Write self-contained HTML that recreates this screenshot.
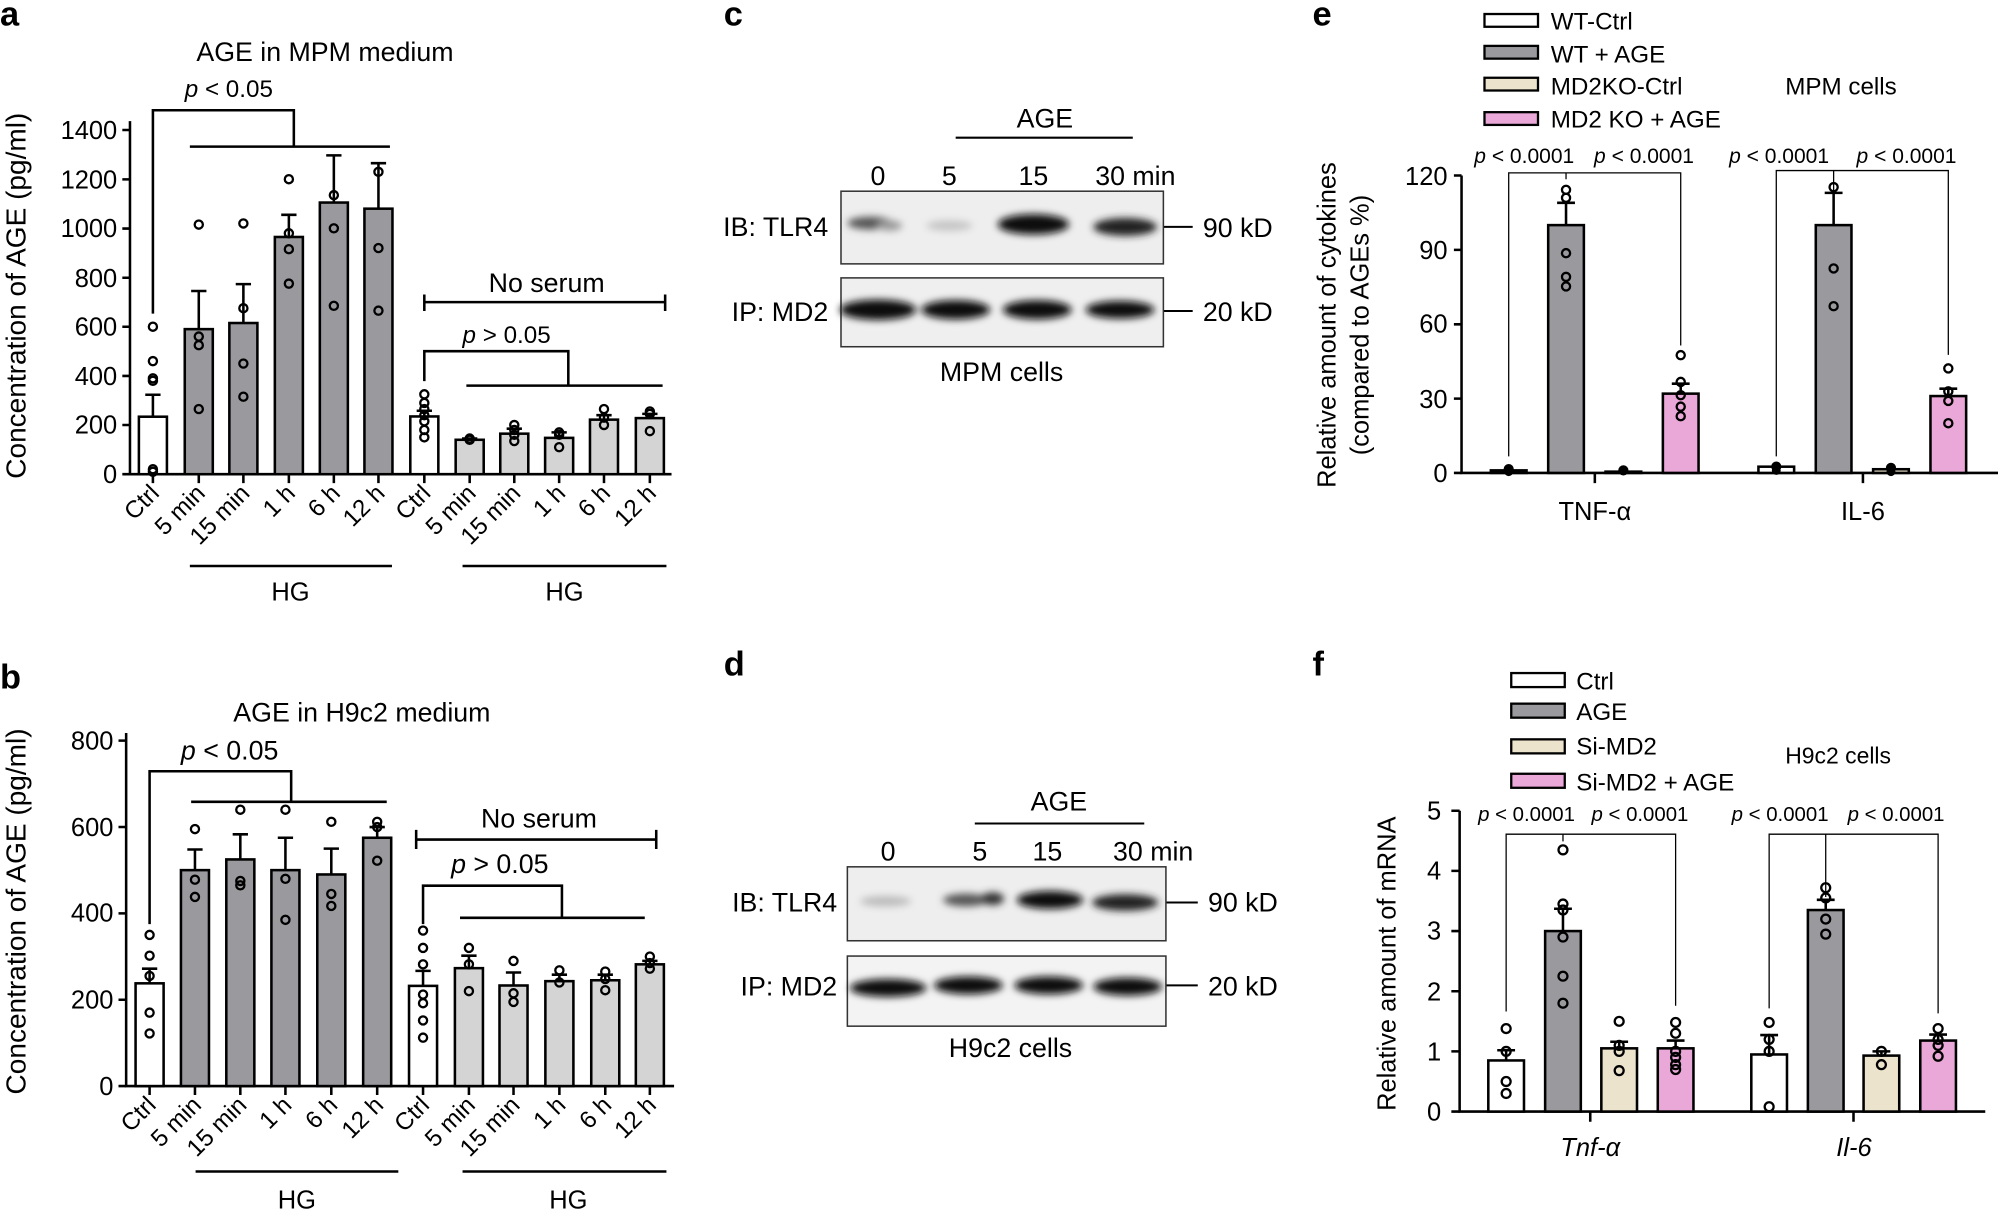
<!DOCTYPE html>
<html><head><meta charset="utf-8"><style>
html,body{margin:0;padding:0;background:#fff;}
svg{display:block;font-family:"Liberation Sans",Arial,sans-serif;}
</style></head><body>
<svg width="1998" height="1211" viewBox="0 0 1568 950" preserveAspectRatio="none" xmlns="http://www.w3.org/2000/svg">
<defs>
<filter id="bl" x="-30%" y="-100%" width="160%" height="300%"><feGaussianBlur stdDeviation="3"/></filter>
<filter id="bl2" x="-30%" y="-100%" width="160%" height="300%"><feGaussianBlur stdDeviation="5"/></filter>
</defs>
<g fill="#000" font-weight="bold" font-size="27">
<text x="0" y="20">a</text><text x="0" y="540">b</text>
<text x="568" y="20">c</text><text x="568" y="530">d</text>
<text x="1030" y="20">e</text><text x="1030" y="530">f</text>
</g>

<!-- Panel a -->
<g stroke="#000" stroke-width="2" fill="none">
<path d="M102 95V372H527"/>
<path d="M96 372H102M96 333.4H102M96 294.9H102M96 256.3H102M96 217.9H102M96 179.3H102M96 140.7H102M96 102H102"/>
<path d="M120 372v7M156 372v7M191 372v7M226.7 372v7M262 372v7M297 372v7M333 372v7M368.6 372v7M403.6 372v7M438.8 372v7M474 372v7M510 372v7"/>
</g>
<g font-size="20" text-anchor="end">
<text x="92" y="379">0</text><text x="92" y="340">200</text><text x="92" y="302">400</text><text x="92" y="263">600</text><text x="92" y="225">800</text><text x="92" y="186">1000</text><text x="92" y="148">1200</text><text x="92" y="109">1400</text>
</g>
<text transform="translate(20,232) rotate(-90)" font-size="22" text-anchor="middle">Concentration of AGE (pg/ml)</text>
<text x="255" y="48" font-size="21" text-anchor="middle">AGE in MPM medium</text>
<g stroke="#000" stroke-width="2">
<rect x="109" y="326.9" width="22" height="45.1" fill="#fff"/>
<rect x="145" y="258.2" width="22" height="113.8" fill="#9a999e"/>
<rect x="180" y="253.4" width="22" height="118.6" fill="#9a999e"/>
<rect x="215.7" y="185.9" width="22" height="186.1" fill="#9a999e"/>
<rect x="251" y="158.9" width="22" height="213.1" fill="#9a999e"/>
<rect x="286" y="163.7" width="22" height="208.3" fill="#9a999e"/>
<rect x="322" y="326.7" width="22" height="45.3" fill="#fff"/>
<rect x="357.6" y="345" width="22" height="27" fill="#d4d4d4"/>
<rect x="392.6" y="340.2" width="22" height="31.8" fill="#d4d4d4"/>
<rect x="427.8" y="343.5" width="22" height="28.5" fill="#d4d4d4"/>
<rect x="463" y="329.2" width="22" height="42.8" fill="#d4d4d4"/>
<rect x="499" y="328" width="22" height="44" fill="#d4d4d4"/>
<path fill="none" d="M120 326.9V309.7M114 309.7H126M156 258.2V228.3M150 228.3H162M191 253.4V222.9M185 222.9H197M226.7 185.9V168.5M220.7 168.5H232.7M262 158.9V121.9M256 121.9H268M297 163.7V128M291 128H303M333 326.7V322.2M327 322.2H339M368.6 345V344M362.6 344H374.6M403.6 340.2V336.3M397.6 336.3H409.6M438.8 343.5V339.2M432.8 339.2H444.8M474 329.2V325.7M468 325.7H480M510 328V324.7M504 324.7H516"/>
</g>
<g fill="none" stroke="#000" stroke-width="1.8">
<circle cx="120" cy="256.3" r="3.2"/><circle cx="120" cy="283.3" r="3.2"/><circle cx="120" cy="296.8" r="3.2"/><circle cx="120" cy="298.7" r="3.2"/><circle cx="120" cy="368.1" r="3.2"/><circle cx="120" cy="370.1" r="3.2"/>
<circle cx="156" cy="176.2" r="3.2"/><circle cx="156" cy="264" r="3.2"/><circle cx="156" cy="270.8" r="3.2"/><circle cx="156" cy="320.9" r="3.2"/>
<circle cx="191" cy="175.3" r="3.2"/><circle cx="191" cy="241.8" r="3.2"/><circle cx="191" cy="285.2" r="3.2"/><circle cx="191" cy="311.2" r="3.2"/>
<circle cx="226.7" cy="140.6" r="3.2"/><circle cx="226.7" cy="183" r="3.2"/><circle cx="226.7" cy="195.5" r="3.2"/><circle cx="226.7" cy="222.5" r="3.2"/>
<circle cx="262" cy="153.1" r="3.2"/><circle cx="262" cy="179.1" r="3.2"/><circle cx="262" cy="239.9" r="3.2"/>
<circle cx="297" cy="134.8" r="3.2"/><circle cx="297" cy="194.6" r="3.2"/><circle cx="297" cy="243.7" r="3.2"/>
<circle cx="333" cy="309.3" r="3.2"/><circle cx="333" cy="316.1" r="3.2"/><circle cx="333" cy="320.9" r="3.2"/><circle cx="333" cy="325.7" r="3.2"/><circle cx="333" cy="330.5" r="3.2"/><circle cx="333" cy="337.3" r="3.2"/><circle cx="333" cy="343.1" r="3.2"/>
<circle cx="368.6" cy="344" r="3.2"/><circle cx="368.6" cy="345" r="3.2"/>
<circle cx="403.6" cy="333.4" r="3.2"/><circle cx="403.6" cy="337.3" r="3.2"/><circle cx="403.6" cy="341.1" r="3.2"/><circle cx="403.6" cy="346" r="3.2"/>
<circle cx="438.8" cy="339.2" r="3.2"/><circle cx="438.8" cy="341.1" r="3.2"/><circle cx="438.8" cy="350.8" r="3.2"/>
<circle cx="474" cy="320.9" r="3.2"/><circle cx="474" cy="327.6" r="3.2"/><circle cx="474" cy="333.4" r="3.2"/>
<circle cx="510" cy="322.8" r="3.2"/><circle cx="510" cy="324.7" r="3.2"/><circle cx="510" cy="338.2" r="3.2"/>
</g>
<g stroke="#000" stroke-width="2" fill="none">
<path d="M120 246V86.5H230.6V115M149 115H306"/>
<path d="M333 237H522M333 231V244M522 231V244"/>
<path d="M333 299V275.5H446V302.5M366 302.5H520"/>
<path d="M149 444H307.6M363 444H523"/>
</g>
<text x="145" y="76" font-size="19"><tspan font-style="italic">p</tspan> &lt; 0.05</text>
<text x="429" y="229" font-size="21" text-anchor="middle">No serum</text>
<text x="363" y="269" font-size="19"><tspan font-style="italic">p</tspan> &gt; 0.05</text>
<text x="228" y="471" font-size="20" text-anchor="middle">HG</text>
<text x="443" y="471" font-size="20" text-anchor="middle">HG</text>
<g font-size="19" text-anchor="end">
<text transform="translate(126,388) rotate(-45)">Ctrl</text>
<text transform="translate(162,388) rotate(-45)">5 min</text>
<text transform="translate(197,388) rotate(-45)">15 min</text>
<text transform="translate(232.7,388) rotate(-45)">1 h</text>
<text transform="translate(268,388) rotate(-45)">6 h</text>
<text transform="translate(303,388) rotate(-45)">12 h</text>
<text transform="translate(339,388) rotate(-45)">Ctrl</text>
<text transform="translate(374.6,388) rotate(-45)">5 min</text>
<text transform="translate(409.6,388) rotate(-45)">15 min</text>
<text transform="translate(444.8,388) rotate(-45)">1 h</text>
<text transform="translate(480,388) rotate(-45)">6 h</text>
<text transform="translate(516,388) rotate(-45)">12 h</text>
</g>

<!-- Panel b -->
<g stroke="#000" stroke-width="2" fill="none">
<path d="M99 575V852H529"/>
<path d="M93 852H99M93 784.25H99M93 716.5H99M93 648.75H99M93 581H99"/>
<path d="M117.4 852v7M153 852v7M188.6 852v7M224 852v7M260 852v7M296 852v7M332 852v7M368 852v7M403 852v7M439 852v7M475 852v7M510 852v7"/>
</g>
<g font-size="20" text-anchor="end">
<text x="89" y="859">0</text><text x="89" y="791">200</text><text x="89" y="723">400</text><text x="89" y="656">600</text><text x="89" y="588">800</text>
</g>
<text transform="translate(20,715) rotate(-90)" font-size="22" text-anchor="middle">Concentration of AGE (pg/ml)</text>
<text x="284" y="566" font-size="21" text-anchor="middle">AGE in H9c2 medium</text>
<g stroke="#000" stroke-width="2">
<rect x="106.4" y="771.4" width="22" height="80.6" fill="#fff"/>
<rect x="142" y="682.6" width="22" height="169.4" fill="#9a999e"/>
<rect x="177.6" y="674.2" width="22" height="177.8" fill="#9a999e"/>
<rect x="213" y="682.6" width="22" height="169.4" fill="#9a999e"/>
<rect x="249" y="686" width="22" height="166" fill="#9a999e"/>
<rect x="285" y="657.2" width="22" height="194.8" fill="#9a999e"/>
<rect x="321" y="773.4" width="22" height="78.6" fill="#fff"/>
<rect x="357" y="759.5" width="22" height="92.5" fill="#d4d4d4"/>
<rect x="392" y="773.1" width="22" height="78.9" fill="#d4d4d4"/>
<rect x="428" y="769.7" width="22" height="82.3" fill="#d4d4d4"/>
<rect x="464" y="769" width="22" height="83" fill="#d4d4d4"/>
<rect x="499" y="756.5" width="22" height="95.5" fill="#d4d4d4"/>
<path fill="none" d="M117.4 771.4V759.9M111.4 759.9H123.4M153 682.6V666.4M147 666.4H159M188.6 674.2V654.5M182.6 654.5H194.6M224 682.6V657.2M218 657.2H230M260 686V665.7M254 665.7H266M296 657.2V648.8M290 648.8H302M332 773.4V761.6M326 761.6H338M368 759.5V749.7M362 749.7H374M403 773.1V762.9M397 762.9H409M439 769.7V764.6M433 764.6H445M475 769V764.6M469 764.6H481M510 756.5V753.8M504 753.8H516"/>
</g>
<g fill="none" stroke="#000" stroke-width="1.8">
<circle cx="117.4" cy="733.4" r="3.2"/><circle cx="117.4" cy="749.7" r="3.2"/><circle cx="117.4" cy="765.6" r="3.2"/><circle cx="117.4" cy="794.4" r="3.2"/><circle cx="117.4" cy="810.7" r="3.2"/>
<circle cx="153" cy="650.4" r="3.2"/><circle cx="153" cy="690.1" r="3.2"/><circle cx="153" cy="703.6" r="3.2"/>
<circle cx="188.6" cy="635.2" r="3.2"/><circle cx="188.6" cy="691.1" r="3.2"/><circle cx="188.6" cy="694.5" r="3.2"/>
<circle cx="224" cy="635.2" r="3.2"/><circle cx="224" cy="689.4" r="3.2"/><circle cx="224" cy="721.6" r="3.2"/>
<circle cx="260" cy="644.7" r="3.2"/><circle cx="260" cy="701.3" r="3.2"/><circle cx="260" cy="710.7" r="3.2"/>
<circle cx="296" cy="644.7" r="3.2"/><circle cx="296" cy="648.8" r="3.2"/><circle cx="296" cy="675.2" r="3.2"/>
<circle cx="332" cy="730" r="3.2"/><circle cx="332" cy="743.6" r="3.2"/><circle cx="332" cy="756.5" r="3.2"/><circle cx="332" cy="780.2" r="3.2"/><circle cx="332" cy="787" r="3.2"/><circle cx="332" cy="800.5" r="3.2"/><circle cx="332" cy="814" r="3.2"/>
<circle cx="368" cy="743.6" r="3.2"/><circle cx="368" cy="756.5" r="3.2"/><circle cx="368" cy="777.5" r="3.2"/>
<circle cx="403" cy="753.8" r="3.2"/><circle cx="403" cy="779.2" r="3.2"/><circle cx="403" cy="786" r="3.2"/>
<circle cx="439" cy="761.2" r="3.2"/><circle cx="439" cy="770.7" r="3.2"/>
<circle cx="475" cy="762.2" r="3.2"/><circle cx="475" cy="768" r="3.2"/><circle cx="475" cy="776.8" r="3.2"/>
<circle cx="510" cy="750.4" r="3.2"/><circle cx="510" cy="755.5" r="3.2"/><circle cx="510" cy="759.9" r="3.2"/>
</g>
<g stroke="#000" stroke-width="2" fill="none">
<path d="M117.4 725V605H228.5V629M150 629H303.5"/>
<path d="M326.6 658.6H515M326.6 651V666M515 651V666"/>
<path d="M332 725V694.8H441V720M361 720H506"/>
<path d="M153.5 919H312.6M363 919H523"/>
</g>
<text x="142" y="596" font-size="21"><tspan font-style="italic">p</tspan> &lt; 0.05</text>
<text x="423" y="649" font-size="21" text-anchor="middle">No serum</text>
<text x="354" y="685" font-size="21"><tspan font-style="italic">p</tspan> &gt; 0.05</text>
<text x="233" y="948" font-size="20" text-anchor="middle">HG</text>
<text x="446" y="948" font-size="20" text-anchor="middle">HG</text>
<g font-size="19" text-anchor="end">
<text transform="translate(123.4,868) rotate(-45)">Ctrl</text>
<text transform="translate(159,868) rotate(-45)">5 min</text>
<text transform="translate(194.6,868) rotate(-45)">15 min</text>
<text transform="translate(230,868) rotate(-45)">1 h</text>
<text transform="translate(266,868) rotate(-45)">6 h</text>
<text transform="translate(302,868) rotate(-45)">12 h</text>
<text transform="translate(338,868) rotate(-45)">Ctrl</text>
<text transform="translate(374,868) rotate(-45)">5 min</text>
<text transform="translate(409,868) rotate(-45)">15 min</text>
<text transform="translate(445,868) rotate(-45)">1 h</text>
<text transform="translate(481,868) rotate(-45)">6 h</text>
<text transform="translate(516,868) rotate(-45)">12 h</text>
</g>

<!-- Panel c -->
<g font-size="21">
<text x="820" y="100" text-anchor="middle">AGE</text>
<text x="689" y="145" text-anchor="middle">0</text>
<text x="745" y="145" text-anchor="middle">5</text>
<text x="811" y="145" text-anchor="middle">15</text>
<text x="891" y="145" text-anchor="middle">30 min</text>
<text x="650" y="185" text-anchor="end">IB: TLR4</text>
<text x="650" y="252" text-anchor="end">IP: MD2</text>
<text x="944" y="186">90 kD</text>
<text x="944" y="252">20 kD</text>
<text x="786" y="299" text-anchor="middle">MPM cells</text>
</g>
<path d="M750 108H889M913 178H936M913 244H936" stroke="#000" stroke-width="1.6"/>
<rect x="660" y="150" width="253" height="57" fill="#eeeeee" stroke="#333" stroke-width="1.2"/>
<rect x="660" y="218" width="253" height="54" fill="#efefef" stroke="#333" stroke-width="1.2"/>
<g filter="url(#bl)">
<ellipse cx="683" cy="175" rx="18" ry="5" fill="#555"/>
<ellipse cx="698" cy="177" rx="10" ry="4" fill="#999"/>
<ellipse cx="745" cy="177" rx="18" ry="4" fill="#c4c4c4"/>
<ellipse cx="811" cy="176" rx="28" ry="8" fill="#111"/>
<ellipse cx="883" cy="178" rx="25" ry="7" fill="#222"/>
<ellipse cx="689" cy="243" rx="30" ry="8" fill="#0a0a0a"/>
<ellipse cx="750" cy="243" rx="27" ry="7.5" fill="#0a0a0a"/>
<ellipse cx="814" cy="243" rx="27" ry="7.5" fill="#0a0a0a"/>
<ellipse cx="879" cy="243" rx="27" ry="7" fill="#111"/>
</g>

<!-- Panel d -->
<g font-size="21">
<text x="831" y="636" text-anchor="middle">AGE</text>
<text x="697" y="675" text-anchor="middle">0</text>
<text x="769" y="675" text-anchor="middle">5</text>
<text x="822" y="675" text-anchor="middle">15</text>
<text x="905" y="675" text-anchor="middle">30 min</text>
<text x="657" y="715" text-anchor="end">IB: TLR4</text>
<text x="657" y="781" text-anchor="end">IP: MD2</text>
<text x="948" y="715">90 kD</text>
<text x="948" y="781">20 kD</text>
<text x="793" y="829" text-anchor="middle">H9c2 cells</text>
</g>
<path d="M765 646H898M915 708H940M915 773H940" stroke="#000" stroke-width="1.6"/>
<rect x="665" y="680" width="250" height="58" fill="#eeeeee" stroke="#333" stroke-width="1.2"/>
<rect x="665" y="750" width="250" height="55" fill="#f3f3f3" stroke="#333" stroke-width="1.2"/>
<g filter="url(#bl)">
<ellipse cx="695" cy="707" rx="20" ry="4" fill="#bbb"/>
<ellipse cx="758" cy="706" rx="18" ry="5" fill="#555"/>
<ellipse cx="779" cy="705" rx="9" ry="5" fill="#333"/>
<ellipse cx="824" cy="706" rx="26" ry="7" fill="#111"/>
<ellipse cx="883" cy="708" rx="26" ry="6.5" fill="#222"/>
<ellipse cx="697" cy="775" rx="30" ry="7" fill="#0a0a0a"/>
<ellipse cx="760" cy="773" rx="27" ry="7" fill="#0a0a0a"/>
<ellipse cx="823" cy="773" rx="27" ry="7" fill="#0a0a0a"/>
<ellipse cx="885" cy="774" rx="27" ry="7" fill="#111"/>
</g>

<!-- Panel e -->
<g stroke="#000" stroke-width="1.8">
<rect x="1165" y="11" width="42" height="10" fill="#fff"/>
<rect x="1165" y="36" width="42" height="10" fill="#9a999e"/>
<rect x="1165" y="61" width="42" height="10" fill="#ebe3cc"/>
<rect x="1165" y="88" width="42" height="10" fill="#eaa8d8"/>
</g>
<g font-size="19">
<text x="1217" y="23">WT-Ctrl</text>
<text x="1217" y="49">WT + AGE</text>
<text x="1217" y="74">MD2KO-Ctrl</text>
<text x="1217" y="100">MD2 KO + AGE</text>
<text x="1401" y="74">MPM cells</text>
</g>
<g stroke="#000" stroke-width="2" fill="none">
<path d="M1147 137.7V371H1568"/>
<path d="M1141 371H1147M1141 312.7H1147M1141 254.4H1147M1141 196H1147M1141 137.7H1147"/>
<path d="M1251.6 371v8M1462 371v8"/>
</g>
<g font-size="20" text-anchor="end">
<text x="1136" y="378">0</text><text x="1136" y="320">30</text><text x="1136" y="261">60</text><text x="1136" y="203">90</text><text x="1136" y="145">120</text>
</g>
<text transform="translate(1048,255) rotate(-90)" font-size="20" text-anchor="middle">Relative amount of cytokines</text>
<text transform="translate(1074,255) rotate(-90)" font-size="20" text-anchor="middle">(compared to AGEs %)</text>
<g stroke="#000" stroke-width="2">
<rect x="1170" y="369" width="28" height="2" fill="#fff"/>
<rect x="1215" y="176.6" width="28" height="194.4" fill="#9a999e"/>
<rect x="1260" y="370" width="28" height="1" fill="#ebe3cc"/>
<rect x="1305" y="308.8" width="28" height="62.2" fill="#eaa8d8"/>
<rect x="1380" y="366.1" width="28" height="4.9" fill="#fff"/>
<rect x="1425" y="176.6" width="28" height="194.4" fill="#9a999e"/>
<rect x="1470" y="368.1" width="28" height="2.9" fill="#ebe3cc"/>
<rect x="1515" y="310.7" width="28" height="60.3" fill="#eaa8d8"/>
<path fill="none" d="M1229 176.6V159.1M1222 159.1H1236M1319 308.8V301M1312 301H1326M1439 176.6V151.3M1432 151.3H1446M1529 310.7V304.9M1522 304.9H1536"/>
</g>
<g fill="none" stroke="#000" stroke-width="1.8">
<circle cx="1229" cy="148.9" r="3.2"/><circle cx="1229" cy="155.2" r="3.2"/><circle cx="1229" cy="198.6" r="3.2"/><circle cx="1229" cy="217.2" r="3.2"/><circle cx="1229" cy="224.7" r="3.2"/>
<circle cx="1319" cy="278.6" r="3.2"/><circle cx="1319" cy="299.6" r="3.2"/><circle cx="1319" cy="310" r="3.2"/><circle cx="1319" cy="319" r="3.2"/><circle cx="1319" cy="326.5" r="3.2"/>
<circle cx="1439" cy="146.8" r="3.2"/><circle cx="1439" cy="210.6" r="3.2"/><circle cx="1439" cy="240.2" r="3.2"/>
<circle cx="1529" cy="289" r="3.2"/><circle cx="1529" cy="307" r="3.2"/><circle cx="1529" cy="314.5" r="3.2"/><circle cx="1529" cy="332" r="3.2"/>
</g>
<g fill="#000">
<circle cx="1184" cy="368" r="4"/><circle cx="1184" cy="370" r="3.5"/>
<circle cx="1274" cy="369" r="4"/>
<circle cx="1394" cy="366" r="4"/><circle cx="1394" cy="369" r="3.5"/>
<circle cx="1484" cy="367" r="4"/><circle cx="1484" cy="370" r="3.5"/>
</g>
<g stroke="#000" stroke-width="1" fill="none">
<path d="M1184 358V135.6H1319V271M1229 135.6V140.6"/>
<path d="M1394 358V133.8H1529V278.4M1439 133.8V151.3"/>
</g>
<g font-size="16.5">
<text x="1157" y="128"><tspan font-style="italic">p</tspan> &lt; 0.0001</text>
<text x="1251" y="128"><tspan font-style="italic">p</tspan> &lt; 0.0001</text>
<text x="1357" y="128"><tspan font-style="italic">p</tspan> &lt; 0.0001</text>
<text x="1457" y="128"><tspan font-style="italic">p</tspan> &lt; 0.0001</text>
</g>
<text x="1251.6" y="408" font-size="20" text-anchor="middle">TNF-α</text>
<text x="1462" y="408" font-size="20" text-anchor="middle">IL-6</text>

<!-- Panel f -->
<g stroke="#000" stroke-width="1.8">
<rect x="1186" y="528" width="42" height="11" fill="#fff"/>
<rect x="1186" y="552" width="42" height="11" fill="#9a999e"/>
<rect x="1186" y="580" width="42" height="11" fill="#ebe3cc"/>
<rect x="1186" y="607" width="42" height="11" fill="#eaa8d8"/>
</g>
<g font-size="19">
<text x="1237" y="541">Ctrl</text>
<text x="1237" y="565">AGE</text>
<text x="1237" y="592">Si-MD2</text>
<text x="1237" y="620">Si-MD2 + AGE</text>
<text x="1401" y="599" font-size="18">H9c2 cells</text>
</g>
<g stroke="#000" stroke-width="2" fill="none">
<path d="M1145.5 636V872H1558"/>
<path d="M1139 872H1145.5M1139 824.8H1145.5M1139 777.6H1145.5M1139 730.4H1145.5M1139 683.2H1145.5M1139 636H1145.5"/>
<path d="M1248 872v8M1454.6 872v8"/>
</g>
<g font-size="20" text-anchor="end">
<text x="1131" y="879">0</text><text x="1131" y="832">1</text><text x="1131" y="785">2</text><text x="1131" y="737">3</text><text x="1131" y="690">4</text><text x="1131" y="643">5</text>
</g>
<text transform="translate(1095,756) rotate(-90)" font-size="20" text-anchor="middle">Relative amount of mRNA</text>
<g stroke="#000" stroke-width="2">
<rect x="1168" y="831.9" width="28" height="40.1" fill="#fff"/>
<rect x="1212.6" y="730.4" width="28" height="141.6" fill="#9a999e"/>
<rect x="1256.7" y="822.4" width="28" height="49.6" fill="#ebe3cc"/>
<rect x="1301" y="822.4" width="28" height="49.6" fill="#eaa8d8"/>
<rect x="1374.4" y="827.2" width="28" height="44.8" fill="#fff"/>
<rect x="1418.8" y="713.9" width="28" height="158.1" fill="#9a999e"/>
<rect x="1462.5" y="828.1" width="28" height="43.9" fill="#ebe3cc"/>
<rect x="1507" y="816.3" width="28" height="55.7" fill="#eaa8d8"/>
<path fill="none" d="M1182 831.9V823.9M1175 823.9H1189M1226.6 730.4V712.9M1219.6 712.9H1233.6M1270.7 822.4V817.2M1263.7 817.2H1277.7M1315 822.4V816.3M1308 816.3H1322M1388.4 827.2V812M1381.4 812H1395.4M1432.8 713.9V705.9M1425.8 705.9H1439.8M1476.5 828.1V824.8M1469.5 824.8H1483.5M1521 816.3V811.6M1514 811.6H1528"/>
</g>
<g fill="none" stroke="#000" stroke-width="1.8">
<circle cx="1182" cy="806.9" r="3.5"/><circle cx="1182" cy="824.8" r="3.5"/><circle cx="1182" cy="848.4" r="3.5"/><circle cx="1182" cy="857.8" r="3.5"/>
<circle cx="1226.6" cy="666.7" r="3.5"/><circle cx="1226.6" cy="709.2" r="3.5"/><circle cx="1226.6" cy="713.9" r="3.5"/><circle cx="1226.6" cy="735.1" r="3.5"/><circle cx="1226.6" cy="765.8" r="3.5"/><circle cx="1226.6" cy="787" r="3.5"/>
<circle cx="1270.7" cy="801.2" r="3.5"/><circle cx="1270.7" cy="820.1" r="3.5"/><circle cx="1270.7" cy="824.8" r="3.5"/><circle cx="1270.7" cy="839.9" r="3.5"/>
<circle cx="1315" cy="802.1" r="3.5"/><circle cx="1315" cy="810.6" r="3.5"/><circle cx="1315" cy="824.8" r="3.5"/><circle cx="1315" cy="829.5" r="3.5"/><circle cx="1315" cy="835.2" r="3.5"/><circle cx="1315" cy="839" r="3.5"/>
<circle cx="1388.4" cy="802.1" r="3.5"/><circle cx="1388.4" cy="815.4" r="3.5"/><circle cx="1388.4" cy="824.8" r="3.5"/><circle cx="1388.4" cy="868.2" r="3.5"/>
<circle cx="1432.8" cy="696.4" r="3.5"/><circle cx="1432.8" cy="704.4" r="3.5"/><circle cx="1432.8" cy="721" r="3.5"/><circle cx="1432.8" cy="732.8" r="3.5"/>
<circle cx="1476.5" cy="824.8" r="3.5"/><circle cx="1476.5" cy="835.2" r="3.5"/>
<circle cx="1521" cy="806.9" r="3.5"/><circle cx="1521" cy="815.4" r="3.5"/><circle cx="1521" cy="820.1" r="3.5"/><circle cx="1521" cy="828.6" r="3.5"/>
</g>
<g stroke="#000" stroke-width="1" fill="none">
<path d="M1182 793.5V654.4H1315V789M1226.6 654.4V660"/>
<path d="M1388.4 791V654.4H1521V795M1432.8 654.4V703.7"/>
</g>
<g font-size="16">
<text x="1160" y="644"><tspan font-style="italic">p</tspan> &lt; 0.0001</text>
<text x="1249" y="644"><tspan font-style="italic">p</tspan> &lt; 0.0001</text>
<text x="1359" y="644"><tspan font-style="italic">p</tspan> &lt; 0.0001</text>
<text x="1450" y="644"><tspan font-style="italic">p</tspan> &lt; 0.0001</text>
</g>
<text x="1248" y="907" font-size="20" font-style="italic" text-anchor="middle">Tnf-α</text>
<text x="1455" y="907" font-size="20" font-style="italic" text-anchor="middle">Il-6</text>
</svg>
</body></html>
